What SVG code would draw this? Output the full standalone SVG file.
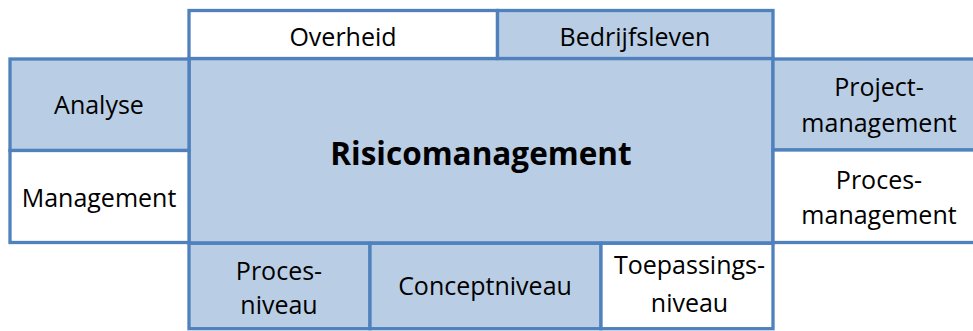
<svg xmlns="http://www.w3.org/2000/svg" width="973" height="331" viewBox="0 0 973 331">
  <style>
    .box { stroke: #4F81BD; stroke-width: 3.3; }
    .blue { fill: #B9CDE5; }
    .white { fill: #FFFFFF; }
    text { font-family: "Open Sans", "Noto Sans", sans-serif; font-size: 25px; fill: #000000; text-anchor: middle; }
    .title { font-size: 31.5px; font-weight: bold; }
  </style>
  <rect width="973" height="331" fill="#FFFFFF"/>

  <!-- central block -->
  <g id="risicomanagement">
    <rect class="box blue" x="189" y="58.5" width="584" height="184.5"/>
    <text class="title" x="481" y="165">Risicomanagement</text>
  </g>

  <!-- top row -->
  <g id="overheid">
    <rect class="box white" x="189" y="10.5" width="308.5" height="48"/>
    <text x="343" y="45.5">Overheid</text>
  </g>
  <g id="bedrijfsleven">
    <rect class="box blue" x="497.5" y="10.5" width="275.5" height="48"/>
    <text x="635" y="45.5">Bedrijfsleven</text>
  </g>

  <!-- left column -->
  <g id="analyse">
    <rect class="box blue" x="10" y="59" width="179" height="91.5"/>
    <text x="99" y="113.5">Analyse</text>
  </g>
  <g id="management">
    <rect class="box white" x="10" y="150.5" width="179" height="92"/>
    <text x="99" y="206.5">Management</text>
  </g>

  <!-- right column -->
  <g id="projectmanagement">
    <rect class="box blue" x="773" y="59" width="210" height="91"/>
    <text x="879" y="95.5">Project-</text>
    <text x="879" y="131.5">management</text>
  </g>
  <g id="procesmanagement">
    <rect class="box white" x="773" y="150" width="210" height="92.5"/>
    <text x="879" y="188.5">Proces-</text>
    <text x="879" y="223.5">management</text>
  </g>

  <!-- bottom row -->
  <g id="procesniveau">
    <rect class="box blue" x="189" y="243.3" width="181" height="85.4"/>
    <text x="279" y="279.5">Proces-</text>
    <text x="279" y="313.5">niveau</text>
  </g>
  <g id="conceptniveau">
    <rect class="box blue" x="370" y="243.3" width="231" height="85.4"/>
    <text x="485" y="295">Conceptniveau</text>
  </g>
  <g id="toepassingsniveau">
    <rect class="box white" x="601" y="243.3" width="172" height="85.4"/>
    <text x="689.5" y="273.5">Toepassings-</text>
    <text x="689.5" y="311.5">niveau</text>
  </g>

  <g id="connectors"></g>
</svg>
